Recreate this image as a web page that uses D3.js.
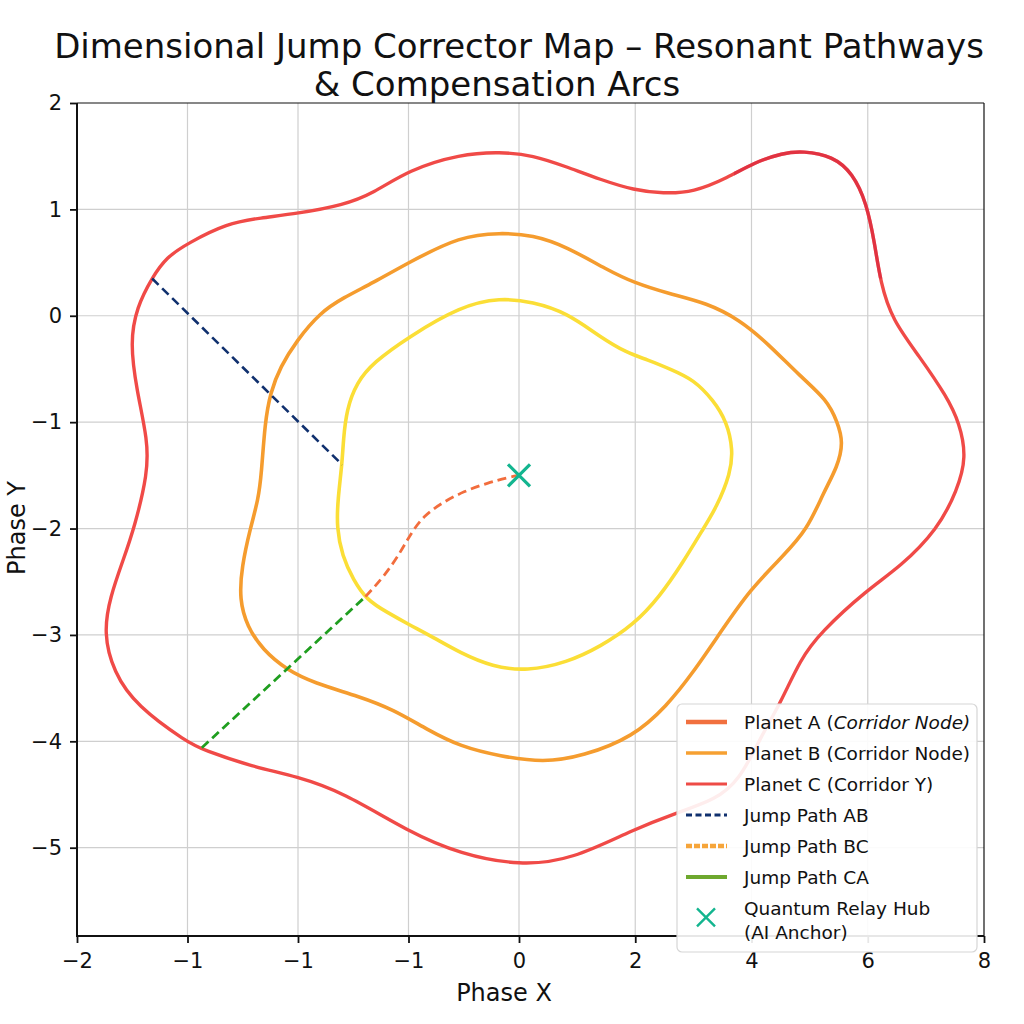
<!DOCTYPE html>
<html>
<head>
<meta charset="utf-8">
<script src="https://cdn.jsdelivr.net/npm/d3@7"></script>
<style>
  body { margin: 0; background: #fff; }
  text { font-family: "DejaVu Sans", sans-serif; }
</style>
</head>
<body>
<div id="chart"></div>
<script>
// axis ticks (the labels are the odd ones printed on the reference)
var xTicks = [-4, -3, -2, -1, 0, 1, 2, 3, 4];
var xTickLabels = ["\u22122", "\u22121", "\u22121", "\u22121", "0", "2", "4", "6", "8"];
var yTicks = [2, 1, 0, -1, -2, -3, -4, -5];

// outer ring (Planet C), clockwise from the top
var ringOuter = [
  [-0.17, 1.54], [0.12, 1.51], [0.41, 1.40], [0.70, 1.28], [0.99, 1.18], [1.24, 1.15],
  [1.50, 1.16], [1.80, 1.30], [2.02, 1.44], [2.27, 1.53], [2.44, 1.55], [2.70, 1.50],
  [2.87, 1.34], [2.99, 1.06], [3.06, 0.68], [3.11, 0.31], [3.21, -0.04], [3.45, -0.39],
  [3.68, -0.76], [3.79, -1.01], [3.85, -1.33], [3.77, -1.64], [3.60, -2.01], [3.28, -2.36],
  [2.99, -2.58], [2.59, -2.98], [2.42, -3.23], [2.25, -3.64], [2.07, -3.98], [1.90, -4.36],
  [1.69, -4.55], [1.36, -4.67], [0.98, -4.83], [0.46, -5.11], [0.01, -5.17], [-0.53, -5.06],
  [-1.00, -4.85], [-1.59, -4.48], [-2.01, -4.33], [-2.41, -4.24], [-2.86, -4.08], [-3.00, -4.01],
  [-3.46, -3.67], [-3.67, -3.35], [-3.76, -2.98], [-3.70, -2.64], [-3.58, -2.29], [-3.48, -1.99],
  [-3.36, -1.48], [-3.36, -1.17], [-3.46, -0.70], [-3.52, -0.25], [-3.46, 0.08], [-3.32, 0.36],
  [-3.19, 0.55], [-3.00, 0.68], [-2.64, 0.87], [-2.34, 0.92], [-2.01, 0.96], [-1.59, 1.04],
  [-1.32, 1.15], [-1.00, 1.37], [-0.53, 1.52]
];
// stretch of the outer ring drawn darker (upper right), as x / y extents
var darkStretchX = [1.85, 3.3];
var darkStretchY = [1.75, 0.35];

// middle ring (Planet B)
var ringMiddle = [
  [-0.17, 0.78], [0.12, 0.76], [0.41, 0.65], [0.76, 0.43], [0.99, 0.31], [1.28, 0.21],
  [1.62, 0.12], [1.90, -0.04], [2.13, -0.25], [2.42, -0.57], [2.65, -0.79], [2.74, -1.00],
  [2.79, -1.19], [2.74, -1.42], [2.62, -1.66], [2.48, -2.01], [2.27, -2.26], [1.99, -2.57],
  [1.73, -2.98], [1.50, -3.35], [1.27, -3.67], [0.98, -3.96], [0.55, -4.14], [0.21, -4.20],
  [-0.17, -4.14], [-0.53, -4.05], [-0.83, -3.89], [-1.14, -3.70], [-1.44, -3.58], [-1.86, -3.45],
  [-2.10, -3.33], [-2.32, -3.14], [-2.46, -2.92], [-2.53, -2.67], [-2.51, -2.36], [-2.43, -1.99],
  [-2.36, -1.73], [-2.33, -1.48], [-2.30, -1.01], [-2.25, -0.72], [-2.16, -0.48], [-2.01, -0.23],
  [-1.80, 0.03], [-1.59, 0.17], [-1.32, 0.31], [-1.00, 0.50], [-0.53, 0.75]
];

// inner ring
var ringInner = [
  [-0.17, 0.17], [0.12, 0.13], [0.41, 0.03], [0.70, -0.20], [0.93, -0.35], [1.10, -0.41],
  [1.32, -0.51], [1.50, -0.60], [1.67, -0.79], [1.79, -1.00], [1.84, -1.26], [1.82, -1.48],
  [1.70, -1.80], [1.58, -2.01], [1.41, -2.32], [1.21, -2.64], [0.99, -2.90], [0.70, -3.11],
  [0.41, -3.26], [0.07, -3.34], [-0.24, -3.30], [-0.53, -3.17], [-0.78, -3.02], [-1.00, -2.90],
  [-1.19, -2.79], [-1.38, -2.67], [-1.50, -2.48], [-1.60, -2.26], [-1.65, -1.99], [-1.64, -1.73],
  [-1.60, -1.38], [-1.59, -1.17], [-1.56, -0.88], [-1.47, -0.63], [-1.32, -0.44], [-1.00, -0.20],
  [-0.53, 0.09]
];

// jump paths
var jumpAB = [[-3.32, 0.35], [-1.60, -1.40]];
var jumpCA = [[-2.87, -4.06], [-1.39, -2.64]];
var jumpBC = [
  [-1.39, -2.64], [-1.22, -2.45], [-1.07, -2.22], [-0.97, -2.03], [-0.86, -1.88],
  [-0.70, -1.76], [-0.50, -1.65], [-0.28, -1.57], [-0.10, -1.52], [0.00, -1.50]
];
var hub = [0, -1.5];

var legendItems = [
  {label: "Planet A (", italic: "Corridor Node)", color: "#f1703f", width: 4.5, dash: null},
  {label: "Planet B (Corridor Node)", color: "#f6a032", width: 3.5, dash: null},
  {label: "Planet C (Corridor Y)", color: "#ee4b46", width: 3, dash: null},
  {label: "Jump Path AB", color: "#10306e", width: 3, dash: "6,3.5"},
  {label: "Jump Path BC", color: "#f6a53a", width: 4.5, dash: "6,2"},
  {label: "Jump Path CA", color: "#6ea82e", width: 4, dash: null}
];

var width = 1024, height = 1024;
var mLeft = 77, mRight = 984, mTop = 103, mBottom = 936;

var x = d3.scaleLinear().domain([-4, 0, 4]).range([mLeft, 519, mRight]);
var y = d3.scaleLinear().domain([2, -5.83]).range([mTop, mBottom]);

var svg = d3.select("#chart").append("svg")
    .attr("width", width)
    .attr("height", height);

var defs = svg.append("defs");
defs.append("clipPath")
    .attr("id", "plot")
  .append("rect")
    .attr("x", mLeft).attr("y", mTop)
    .attr("width", mRight - mLeft).attr("height", mBottom - mTop);

defs.append("clipPath")
    .attr("id", "dark")
  .append("rect")
    .attr("x", x(darkStretchX[0])).attr("y", y(darkStretchY[0]))
    .attr("width", x(darkStretchX[1]) - x(darkStretchX[0]))
    .attr("height", y(darkStretchY[1]) - y(darkStretchY[0]));

// grid
svg.append("g").selectAll("line")
    .data(xTicks.slice(1, -1))
  .enter().append("line")
    .attr("x1", x).attr("x2", x)
    .attr("y1", mTop).attr("y2", mBottom)
    .attr("stroke", "#cfcfcf").attr("stroke-width", 1.2);

svg.append("g").selectAll("line")
    .data(yTicks.slice(1))
  .enter().append("line")
    .attr("x1", mLeft).attr("x2", mRight)
    .attr("y1", y).attr("y2", y)
    .attr("stroke", "#cfcfcf").attr("stroke-width", 1.2);

// smooth closed rings; the traced points are a little noisy
var ringLine = d3.line()
    .x(function(d) { return x(d[0]); })
    .y(function(d) { return y(d[1]); })
    .curve(d3.curveBasisClosed);

var pathLine = d3.line()
    .x(function(d) { return x(d[0]); })
    .y(function(d) { return y(d[1]); })
    .curve(d3.curveBasis);

var plot = svg.append("g").attr("clip-path", "url(#plot)");

plot.append("path").datum(ringOuter)
    .attr("d", ringLine)
    .attr("fill", "none").attr("stroke", "#f04a47").attr("stroke-width", 3.4);

plot.append("path").datum(ringOuter)
    .attr("d", ringLine)
    .attr("clip-path", "url(#dark)")
    .attr("fill", "none").attr("stroke", "#d61f3c").attr("stroke-width", 3.4)
    .attr("opacity", 0.55);

plot.append("path").datum(ringMiddle)
    .attr("d", ringLine)
    .attr("fill", "none").attr("stroke", "#f59c2e").attr("stroke-width", 3.6);

plot.append("path").datum(ringInner)
    .attr("d", ringLine)
    .attr("fill", "none").attr("stroke", "#fbde36").attr("stroke-width", 3.6);

plot.append("path").datum(jumpAB)
    .attr("d", pathLine)
    .attr("fill", "none").attr("stroke", "#10306e").attr("stroke-width", 2.6)
    .attr("stroke-dasharray", "9,5");

plot.append("path").datum(jumpCA)
    .attr("d", pathLine)
    .attr("fill", "none").attr("stroke", "#1f9e1f").attr("stroke-width", 2.8)
    .attr("stroke-dasharray", "9,5");

plot.append("path").datum(jumpBC)
    .attr("d", pathLine)
    .attr("fill", "none").attr("stroke", "#f26d3d").attr("stroke-width", 2.8)
    .attr("stroke-dasharray", "9,5");

// hub marker
var hs = 11;
plot.append("path")
    .attr("d", "M" + (x(hub[0]) - hs) + "," + (y(hub[1]) - hs) + "L" + (x(hub[0]) + hs) + "," + (y(hub[1]) + hs) +
               "M" + (x(hub[0]) - hs) + "," + (y(hub[1]) + hs) + "L" + (x(hub[0]) + hs) + "," + (y(hub[1]) - hs))
    .attr("stroke", "#13b58f").attr("stroke-width", 3.2).attr("fill", "none");

// spines
svg.append("line").attr("x1", mLeft).attr("x2", mRight).attr("y1", mTop).attr("y2", mTop)
    .attr("stroke", "#111").attr("stroke-width", 1.2);
svg.append("line").attr("x1", mRight).attr("x2", mRight).attr("y1", mTop).attr("y2", mBottom)
    .attr("stroke", "#111").attr("stroke-width", 1.2);
svg.append("line").attr("x1", mLeft).attr("x2", mLeft).attr("y1", mTop).attr("y2", mBottom + 1)
    .attr("stroke", "#111").attr("stroke-width", 2);
svg.append("line").attr("x1", mLeft - 1).attr("x2", mRight).attr("y1", mBottom).attr("y2", mBottom)
    .attr("stroke", "#111").attr("stroke-width", 2);

// axes
var xAxis = svg.append("g")
    .attr("transform", "translate(0," + mBottom + ")")
    .call(d3.axisBottom(x).tickValues(xTicks)
      .tickFormat(function(d, i) { return xTickLabels[i]; })
      .tickSize(7).tickPadding(10));
xAxis.select(".domain").remove();
xAxis.selectAll("line").attr("stroke", "#111").attr("stroke-width", 1.8);
xAxis.selectAll("text").attr("font-size", 21).attr("fill", "#111")
    .style("font-family", "DejaVu Sans, sans-serif");

var yAxis = svg.append("g")
    .attr("transform", "translate(" + mLeft + ",0)")
    .call(d3.axisLeft(y).tickValues(yTicks)
      .tickFormat(function(d) { return d < 0 ? "\u2212" + Math.abs(d) : d; })
      .tickSize(7).tickPadding(8));
yAxis.select(".domain").remove();
yAxis.selectAll("line").attr("stroke", "#111").attr("stroke-width", 1.8);
yAxis.selectAll("text").attr("font-size", 21).attr("fill", "#111")
    .style("font-family", "DejaVu Sans, sans-serif");

// labels
svg.append("text")
    .attr("x", 504).attr("y", 1001)
    .attr("text-anchor", "middle")
    .attr("font-size", 24).attr("fill", "#111")
    .text("Phase X");

svg.append("text")
    .attr("transform", "translate(25,528) rotate(-90)")
    .attr("text-anchor", "middle")
    .attr("font-size", 24).attr("fill", "#111")
    .text("Phase Y");

svg.append("text")
    .attr("x", 519).attr("y", 58)
    .attr("text-anchor", "middle")
    .attr("font-size", 34).attr("fill", "#111")
    .text("Dimensional Jump Corrector Map \u2013 Resonant Pathways");

svg.append("text")
    .attr("x", 497).attr("y", 96)
    .attr("text-anchor", "middle")
    .attr("font-size", 34).attr("fill", "#111")
    .text("& Compensation Arcs");

// legend
var lg = svg.append("g");
lg.append("rect")
    .attr("x", 677).attr("y", 704)
    .attr("width", 300).attr("height", 248)
    .attr("rx", 5)
    .attr("fill", "#fff").attr("fill-opacity", 0.9)
    .attr("stroke", "#d6d6d6").attr("stroke-width", 1.2);

var rowY = d3.scaleLinear().domain([0, 1]).range([722, 753]);

legendItems.forEach(function(item, i) {
  var cy = rowY(i);
  lg.append("line")
      .attr("x1", 686).attr("x2", 727)
      .attr("y1", cy).attr("y2", cy)
      .attr("stroke", item.color)
      .attr("stroke-width", item.width)
      .attr("stroke-dasharray", item.dash);
  var t = lg.append("text")
      .attr("x", 744).attr("y", cy + 6.5)
      .attr("font-size", 18.5).attr("fill", "#111")
      .text(item.label);
  if (item.italic) {
    t.append("tspan").attr("font-style", "italic").text(item.italic);
  }
});

var my = rowY(6.3), mx = 706, ms = 9;
lg.append("path")
    .attr("d", "M" + (mx - ms) + "," + (my - ms) + "L" + (mx + ms) + "," + (my + ms) +
               "M" + (mx - ms) + "," + (my + ms) + "L" + (mx + ms) + "," + (my - ms))
    .attr("stroke", "#13b58f").attr("stroke-width", 2.4).attr("fill", "none");

lg.append("text")
    .attr("x", 744).attr("y", rowY(6) + 6.5)
    .attr("font-size", 18.5).attr("fill", "#111")
    .text("Quantum Relay Hub");
lg.append("text")
    .attr("x", 744).attr("y", rowY(6.8) + 6.5)
    .attr("font-size", 18.5).attr("fill", "#111")
    .text("(AI Anchor)");
</script>
</body>
</html>
